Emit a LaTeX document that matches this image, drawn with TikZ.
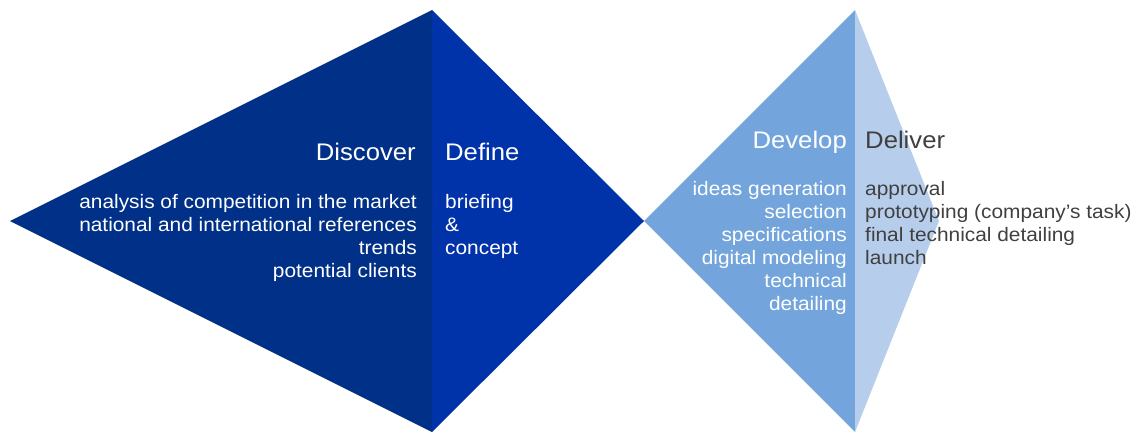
\documentclass[tikz,border=0pt]{standalone}
\usepackage{fontspec}
\setmainfont[FakeStretch=1.07]{Liberation Sans}
\definecolor{navy}{RGB}{0,48,135}
\definecolor{royal}{RGB}{0,50,170}
\definecolor{midblue}{RGB}{115,165,220}
\definecolor{lightblue}{RGB}{182,206,235}
\definecolor{txtgray}{RGB}{64,64,64}
\tikzset{
  head/.style={inner sep=0pt, font=\fontsize{24}{28}\selectfont},
  body/.style={inner sep=0pt, font=\fontsize{19.5}{23}\selectfont},
}
\begin{document}
\begin{tikzpicture}[x=1pt,y=-1pt]
\useasboundingbox (0,0) rectangle (1138,434);
\fill[navy] (10,221) -- (432,10) -- (432,432) -- cycle;
\fill[royal] (432,10) -- (432,432) -- (644,221) -- cycle;
\fill[midblue] (644,221) -- (855,10) -- (855,432) -- cycle;
\fill[lightblue] (855,10) -- (855,432) -- (939,221) -- cycle;

\node[head, white, anchor=base east] (discover) at (416,160) {Discover};
\node[body, white, anchor=base east, align=right] (discbody) at (417,277)
  {analysis of competition in the market\\national and international references\\trends\\potential clients};
\node[head, white, anchor=base west] (define) at (445,160) {Define};
\node[body, white, anchor=base west, align=left] (defbody) at (445,254)
  {briefing\\\&\\concept};
\node[head, white, anchor=base east] (develop) at (847,148) {Develop};
\node[body, white, anchor=base east, align=right] (devbody) at (847,310)
  {ideas generation\\selection\\specifications\\digital modeling\\technical\\detailing};
\node[head, txtgray, anchor=base west] (deliver) at (865,148) {Deliver};
\node[body, txtgray, anchor=base west, align=left] (delbody) at (865,264)
  {approval\\prototyping (company’s task)\\final technical detailing\\launch};
\end{tikzpicture}
\end{document}
